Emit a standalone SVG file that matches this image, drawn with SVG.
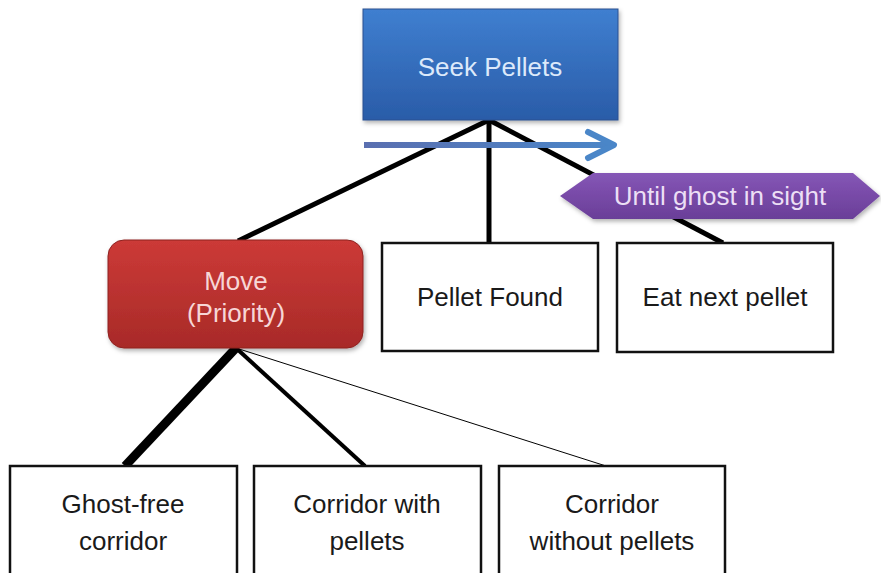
<svg xmlns="http://www.w3.org/2000/svg" width="881" height="573" viewBox="0 0 881 573">
<defs>
<linearGradient id="gBlue" x1="0" y1="0" x2="0" y2="1">
<stop offset="0" stop-color="#3f7fd0"/><stop offset="1" stop-color="#2a5ca8"/>
</linearGradient>
<linearGradient id="gRed" x1="0" y1="0" x2="0" y2="1">
<stop offset="0" stop-color="#cc3a37"/><stop offset="1" stop-color="#a82a28"/>
</linearGradient>
<linearGradient id="gPurple" x1="0" y1="0" x2="0" y2="1">
<stop offset="0" stop-color="#8556b6"/><stop offset="1" stop-color="#6a3e98"/>
</linearGradient>
<linearGradient id="gArrow" gradientUnits="userSpaceOnUse" x1="364" y1="0" x2="615" y2="0">
<stop offset="0" stop-color="#5a6fb0"/><stop offset="1" stop-color="#4a86c8"/>
</linearGradient>
<filter id="sh" x="-10%" y="-10%" width="125%" height="130%">
<feDropShadow dx="1.5" dy="2.5" stdDeviation="2" flood-color="#000" flood-opacity="0.3"/>
</filter>
</defs>
<style>
text{font-family:"Liberation Sans",Arial,sans-serif;font-size:26px;text-anchor:middle}
.box{fill:#fff;stroke:#111;stroke-width:2.5}
.dark{fill:#1a1a1a}
.con{stroke:#000;fill:none}
</style>
<rect width="881" height="573" fill="#fff"/>
<g id="connectors">
<line class="con" x1="489" y1="120" x2="238" y2="241" stroke-width="5"/>
<line class="con" x1="489" y1="120" x2="489" y2="243" stroke-width="5"/>
<line class="con" x1="489" y1="120" x2="723" y2="243" stroke-width="5"/>
<line class="con" x1="236" y1="348" x2="125" y2="466" stroke-width="9"/>
<line class="con" x1="236" y1="348" x2="365" y2="466" stroke-width="4"/>
<line class="con" x1="236" y1="348" x2="606" y2="466" stroke-width="1"/>
</g>
<g id="seek-pellets">
<rect x="363" y="9" width="255" height="111" fill="url(#gBlue)" stroke="#2a5090" stroke-width="1" filter="url(#sh)"/>
<text x="490" y="76" fill="#dce9fa">Seek Pellets</text>
</g>
<g id="sequence-arrow">
<line x1="364" y1="145" x2="612" y2="145" stroke="url(#gArrow)" stroke-width="6"/>
<polyline points="588,132 614,145 588,158" fill="none" stroke="#4a86c8" stroke-width="6" stroke-linecap="round" stroke-linejoin="round"/>
</g>
<g id="move">
<rect x="108" y="240" width="255" height="108" rx="16" fill="url(#gRed)" stroke="#8e2220" stroke-width="1" filter="url(#sh)"/>
<text x="236" y="290" fill="#f7d6d6">Move</text>
<text x="236" y="322" fill="#f7d6d6">(Priority)</text>
</g>
<g id="pellet-found">
<rect class="box" x="382" y="243" width="216" height="108"/>
<text class="dark" x="490" y="306">Pellet Found</text>
</g>
<g id="until-ghost">
<polygon points="560,196 593,173 853,173 880,196 853,219 593,219" fill="url(#gPurple)" filter="url(#sh)"/>
<text x="720" y="205" fill="#ecdff5">Until ghost in sight</text>
</g>
<g id="eat-next-pellet">
<rect class="box" x="617" y="243" width="216" height="109"/>
<text class="dark" x="725" y="306">Eat next pellet</text>
</g>
<g id="ghost-free">
<rect class="box" x="10" y="466" width="227" height="120"/>
<text class="dark" x="123" y="513">Ghost-free</text>
<text class="dark" x="123" y="550">corridor</text>
</g>
<g id="corridor-with">
<rect class="box" x="254" y="466" width="227" height="120"/>
<text class="dark" x="367" y="513">Corridor with</text>
<text class="dark" x="367" y="550">pellets</text>
</g>
<g id="corridor-without">
<rect class="box" x="499" y="466" width="226" height="120"/>
<text class="dark" x="612" y="513">Corridor</text>
<text class="dark" x="612" y="550">without pellets</text>
</g>
</svg>
